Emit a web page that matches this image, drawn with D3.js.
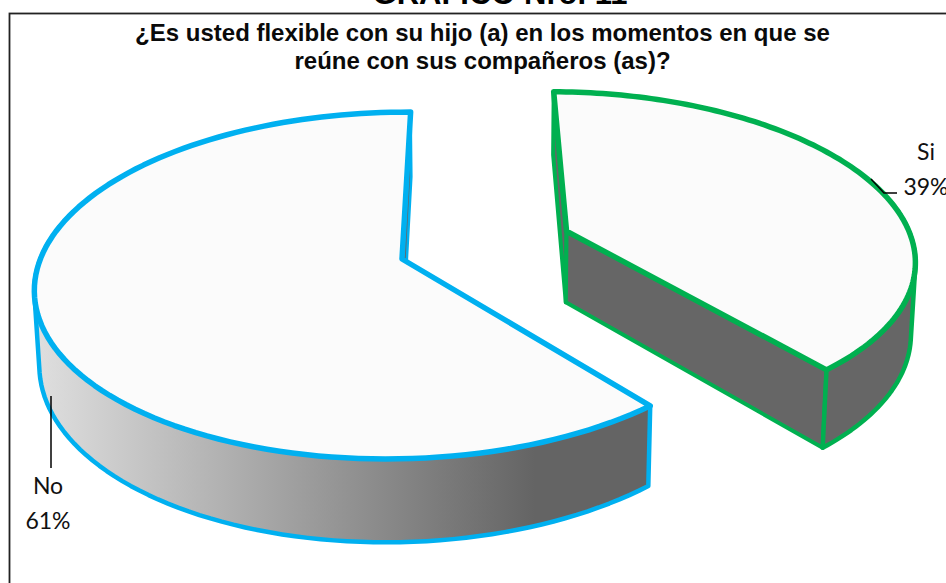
<!DOCTYPE html>
<html>
<head>
<meta charset="utf-8">
<script src="https://cdn.jsdelivr.net/npm/d3@7"></script>
<style>
    html, body { margin: 0; padding: 0; background: #fff; }
    svg { display: block; }
</style>
</head>
<body>
<svg id="chart" width="946" height="583"></svg>
<script>
const categorias = ["Si", "No"];
const valores = [39, 61];
const colores = ["#00b050", "#00b0f0"];
const heading = "GRÁFICO Nro. 11";
const tituloLineas = ["¿Es usted flexible con su hijo (a) en los momentos en que se", "reúne con sus compañeros (as)?"];

const svg = d3.select("#chart");
const centro = { x: 402, y: 259 };
const radio = 358, prof = 0.0107;
const persp = 0.153, horizonte = -848, fugaX = 467, giro = 0.01;
const nadir = { x: 491, y: 7140 };
const explode = 0.4985;

// proyeccion del pastel 3D: (X, Y) sobre el disco, Z hacia abajo
function proyecta(X, Y, Z) {
    let w = 1 - persp * Y + prof * Z + giro * X;
    let x = centro.x + (radio + giro * centro.x) * X - persp * Y * fugaX + prof * Z * nadir.x;
    let y = centro.y + giro * X * centro.y - persp * Y * horizonte + prof * Z * nadir.y;
    return [x / w, y / w];
}

const pie = d3.pie().sort(null).value(d => d);
const arcos = pie(valores);

// gradiente del costado
const defs = svg.append("defs");
const grad = defs.append("linearGradient").attr("id", "lado")
    .attr("gradientUnits", "userSpaceOnUse")
    .attr("x1", 40).attr("x2", 535).attr("y1", 0).attr("y2", 0);
grad.append("stop").attr("offset", 0).attr("stop-color", "#dedede");
grad.append("stop").attr("offset", 1).attr("stop-color", "#646464");

svg.append("rect")
    .attr("x", 9.5).attr("y", 13.5).attr("width", 960).attr("height", 600)
    .attr("fill", "#fff").attr("stroke", "#222").attr("stroke-width", 1.8);

const linea = d3.line();

arcos.forEach((a, i) => {
    let medio = (a.startAngle + a.endAngle) / 2;
    let ex = i === 0 ? explode * Math.sin(medio) : 0;
    let ey = i === 0 ? -explode * Math.cos(medio) : 0;
    let punto = (ang, r, z) => proyecta(ex + r * Math.sin(ang), ey - r * Math.cos(ang), z);
    let angulos = d3.range(0, 121).map(k => a.startAngle + (a.endAngle - a.startAngle) * k / 120);

    let g = svg.append("g")
        .attr("stroke", colores[i])
        .attr("stroke-linejoin", "round");
    let relleno = i === 0 ? "#666666" : "url(#lado)";

    // paredes radiales
    [a.startAngle, a.endAngle].forEach(ang => {
        let color = (i === 1 && ang === a.startAngle) ? "#d4d4d4" : "#666666";
        g.append("path")
            .attr("d", linea([punto(0, 0, 0), punto(ang, 1, 0), punto(ang, 1, 1), punto(0, 0, 1)]) + "Z")
            .attr("fill", color)
            .attr("stroke-width", i === 1 ? 2.5 : 4);
    });

    // costado: solo la parte de adelante, con silueta recta en los extremos
    let sup = angulos.map(t => punto(t, 1, 0));
    let frente = angulos.filter(t => Math.cos(t) < 0.3);
    let contorno = d3.polygonHull(frente.map(t => punto(t, 1, 0)).concat(frente.map(t => punto(t, 1, 1))));
    g.append("path")
        .attr("d", linea(contorno) + "Z")
        .attr("fill", relleno)
        .attr("stroke-width", 4.5);

    // cara superior
    g.append("path")
        .attr("d", linea([punto(0, 0, 0)].concat(sup)) + "Z")
        .attr("fill", "#fbfbfb")
        .attr("stroke-width", 5.5);
});

// titulos
svg.append("text")
    .attr("x", 500).attr("y", 4)
    .attr("text-anchor", "middle")
    .attr("font-family", "Liberation Sans").attr("font-weight", "bold").attr("font-size", 31)
    .text(heading);

svg.selectAll("text.titulo").data(tituloLineas).enter().append("text")
    .attr("class", "titulo")
    .attr("x", 482.5).attr("y", (d, i) => 40.5 + i * 28)
    .attr("text-anchor", "middle")
    .attr("font-family", "Liberation Sans").attr("font-weight", "bold").attr("font-size", 24)
    .attr("fill", "#0a0a0a")
    .text(d => d);

// etiquetas
const etiquetas = [
    { nombre: categorias[0], valor: valores[0], x: 926, y: 160, y2: 195, guia: [[871, 179], [884, 193], [897, 193]] },
    { nombre: categorias[1], valor: valores[1], x: 48, y: 494, y2: 529, guia: [[51, 396], [51, 468]] }
];
etiquetas.forEach(e => {
    svg.append("path").attr("d", linea(e.guia))
        .attr("fill", "none").attr("stroke", "#000").attr("stroke-width", 1.5);
    svg.append("text").attr("x", e.x).attr("y", e.y).attr("text-anchor", "middle")
        .attr("font-family", "Lato").attr("font-size", 23).attr("fill", "#111").text(e.nombre);
    svg.append("text").attr("x", e.x).attr("y", e.y2).attr("text-anchor", "middle")
        .attr("font-family", "Lato").attr("font-size", 23).attr("fill", "#111").text(e.valor + "%");
});
</script>
</body>
</html>
